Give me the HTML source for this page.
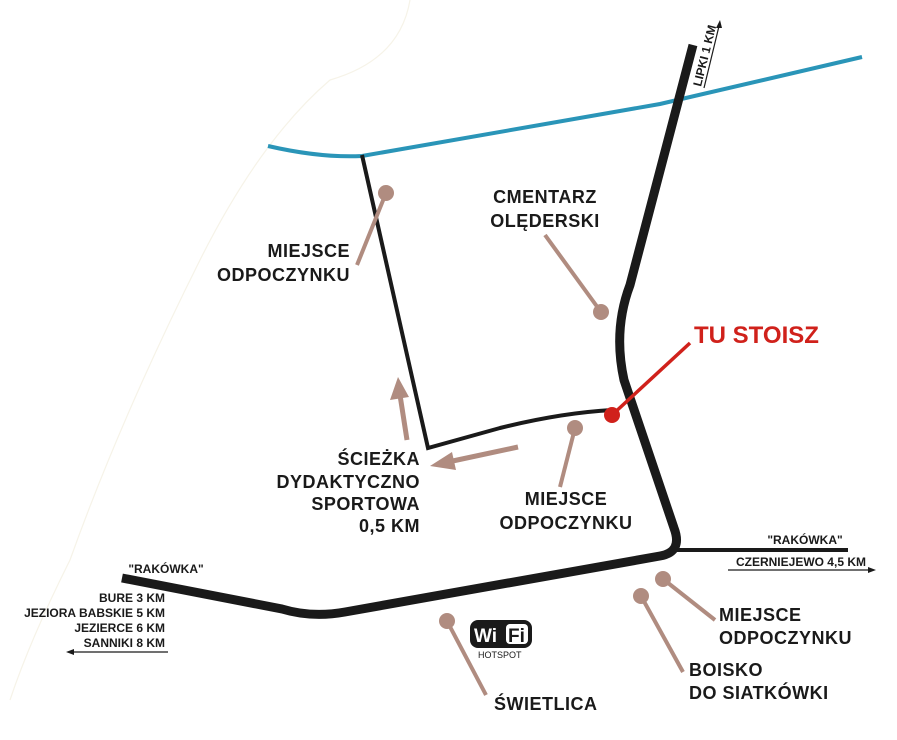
<!DOCTYPE html>
<html><head><meta charset="utf-8"><style>
html,body{margin:0;padding:0;background:#fff;}
svg{display:block;}
text{font-family:"Liberation Sans",sans-serif;font-weight:bold;fill:#1a1a1a;}
</style></head><body>
<svg width="897" height="740" viewBox="0 0 897 740" xmlns="http://www.w3.org/2000/svg">
<path d="M410,0 Q400,60 330,80 Q260,140 200,260 Q120,420 70,560 Q30,640 10,700" fill="none" stroke="#f6f3e8" stroke-width="1.2"/>
<path d="M268,146 Q320,158 362,156 L660,104 L862,57" fill="none" stroke="#2a95b8" stroke-width="4"/>
<path d="M362,155 L428,448 L500,428 Q560,413 612,410" fill="none" stroke="#1a1a1a" stroke-width="4"/>
<path d="M693,45 L630,285 Q613,330 624,380 L674,528 Q683,552 660,556 L345,612 Q312,618 282,609 L122,578" fill="none" stroke="#1a1a1a" stroke-width="9"/>
<path d="M676,550 L848,550" stroke="#1a1a1a" stroke-width="4"/>
<path d="M704,88 L720,22" stroke="#1a1a1a" stroke-width="1.2"/>
<path d="M720,20 L716,28 L722,28 Z" fill="#1a1a1a"/>
<path d="M728,570 L873,570" stroke="#1a1a1a" stroke-width="1.2"/>
<path d="M876,570 L868,567 L868,573 Z" fill="#1a1a1a"/>
<path d="M168,652 L70,652" stroke="#1a1a1a" stroke-width="1.2"/>
<path d="M66,652 L74,649 L74,655 Z" fill="#1a1a1a"/>
<g stroke="#b08c80" stroke-width="5" fill="#b08c80">
<path d="M407,440 L400,395"/>
<path d="M398,377 L390,400 L409,397 Z" stroke="none"/>
<path d="M518,447 L448,462"/>
<path d="M430,466 L452,452 L456,470 Z" stroke="none"/>
</g>
<g stroke="#b08c80" stroke-width="4" fill="#b08c80">
<line x1="386" y1="193" x2="357" y2="265"/><circle cx="386" cy="193" r="8" stroke="none"/>
<line x1="601" y1="312" x2="545" y2="235"/><circle cx="601" cy="312" r="8" stroke="none"/>
<line x1="575" y1="428" x2="560" y2="487"/><circle cx="575" cy="428" r="8" stroke="none"/>
<line x1="447" y1="621" x2="486" y2="695"/><circle cx="447" cy="621" r="8" stroke="none"/>
<line x1="641" y1="596" x2="683" y2="672"/><circle cx="641" cy="596" r="8" stroke="none"/>
<line x1="663" y1="579" x2="715" y2="620"/><circle cx="663" cy="579" r="8" stroke="none"/>
</g>
<line x1="612" y1="415" x2="690" y2="343" stroke="#d0211b" stroke-width="3.5"/>
<circle cx="612" cy="415" r="8" fill="#d0211b"/>
<rect x="470" y="620" width="62" height="28" rx="8" fill="#1a1a1a"/>
<rect x="506" y="624" width="22" height="20" rx="4" fill="#fff"/>
<text x="474" y="642" font-size="19" style="fill:#fff">Wi</text>
<text x="508" y="642" font-size="19">Fi</text>
<text x="478" y="658" font-size="9" style="font-weight:normal">HOTSPOT</text>
<g font-size="18" letter-spacing="0.5">
<text x="350" y="257" text-anchor="end">MIEJSCE</text>
<text x="350" y="281" text-anchor="end">ODPOCZYNKU</text>
<text x="545" y="203" text-anchor="middle">CMENTARZ</text>
<text x="545" y="227" text-anchor="middle">OLĘDERSKI</text>
<text x="420" y="465" text-anchor="end">ŚCIEŻKA</text>
<text x="420" y="488" text-anchor="end">DYDAKTYCZNO</text>
<text x="420" y="510" text-anchor="end">SPORTOWA</text>
<text x="420" y="532" text-anchor="end">0,5 KM</text>
<text x="566" y="505" text-anchor="middle">MIEJSCE</text>
<text x="566" y="529" text-anchor="middle">ODPOCZYNKU</text>
<text x="719" y="621">MIEJSCE</text>
<text x="719" y="644">ODPOCZYNKU</text>
<text x="689" y="676">BOISKO</text>
<text x="689" y="699">DO SIATKÓWKI</text>
<text x="494" y="710">ŚWIETLICA</text>
</g>
<text x="694" y="343" font-size="24" style="fill:#d0211b">TU STOISZ</text>
<g font-size="12">
<text x="166" y="573" text-anchor="middle">"RAKÓWKA"</text>
<text x="165" y="602" text-anchor="end">BURE 3 KM</text>
<text x="165" y="617" text-anchor="end">JEZIORA BABSKIE 5 KM</text>
<text x="165" y="632" text-anchor="end">JEZIERCE 6 KM</text>
<text x="165" y="647" text-anchor="end">SANNIKI 8 KM</text>
<text x="805" y="544" text-anchor="middle">"RAKÓWKA"</text>
<text x="866" y="566" text-anchor="end">CZERNIEJEWO 4,5 KM</text>
<text x="0" y="0" transform="translate(701,87) rotate(-76)">LIPKI 1 KM</text>
</g>
</svg>
</body></html>
